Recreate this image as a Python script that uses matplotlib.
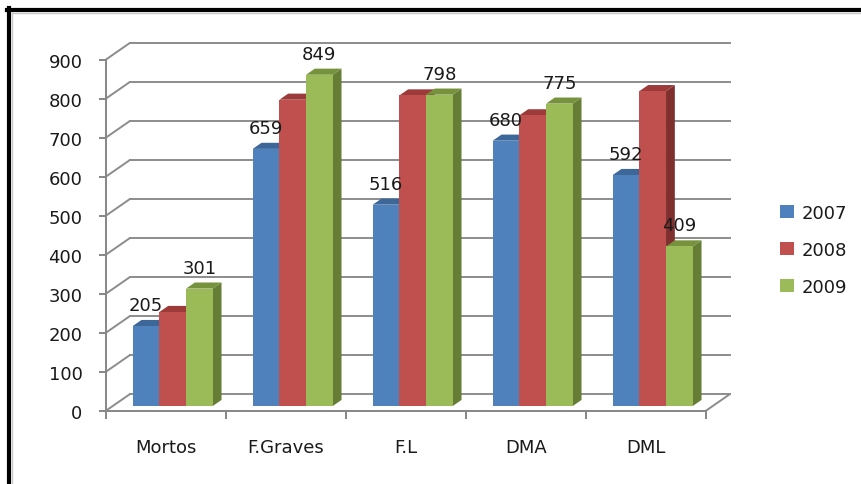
import matplotlib
matplotlib.use("Agg")
import matplotlib.pyplot as plt
from matplotlib.patches import Polygon, Patch
from matplotlib.lines import Line2D

# ---- data ----
categories = ["Mortos", "F.Graves", "F.L", "DMA", "DML"]
series_names = ["2007", "2008", "2009"]
values_2007 = [205, 659, 516, 680, 592]
values_2008 = [241, 785, 796, 745, 807]
values_2009 = [301, 849, 798, 775, 409]
y_ticks = [0, 100, 200, 300, 400, 500, 600, 700, 800, 900]
labeled_series = ["2007", "2009"]

series_values = [values_2007, values_2008, values_2009]
front_colors = ["#4F81BD", "#C0504D", "#9BBB59"]
top_colors = ["#3D6799", "#9C3B39", "#76923C"]
side_colors = ["#375D8C", "#7F302E", "#667D36"]

W, H = 861, 485
fig = plt.figure(figsize=(W / 100, H / 100), dpi=100)
fig.patch.set_facecolor("white")

ax_left, ax_bottom = 106, 73.3
ax_w, ax_h = 600, 351.2
ax = fig.add_axes([ax_left / W, ax_bottom / H, ax_w / W, ax_h / H])
ax.set_xlim(0, len(categories))
ax.set_ylim(0, 900)
ax.patch.set_visible(False)

# depth vector of the floor (pixels) converted to data units
depth_px = (23.5, 16.3)
px_per_x = ax_w / len(categories)
px_per_y = ax_h / 900
ddx = depth_px[0] / px_per_x
ddy = depth_px[1] / px_per_y

grid_color = "#8C8C8C"
axis_color = "#868686"

# back wall gridlines with diagonals from the front axis
for v in y_ticks:
    ax.add_line(Line2D([0, ddx], [v, v + ddy], color=grid_color, lw=1.4,
                       clip_on=False, zorder=1))
    ax.add_line(Line2D([ddx, len(categories) + ddx], [v + ddy, v + ddy],
                       color=grid_color, lw=1.4, clip_on=False, zorder=1))
# right edge of the floor
ax.add_line(Line2D([len(categories), len(categories) + ddx], [0, ddy],
                   color=grid_color, lw=1.4, clip_on=False, zorder=1))

# 3-D style columns
f0, f1 = 0.285, 0.66
bar_w = 0.2222
n_series = len(series_values)
for i in range(len(categories)):
    group_left = i + 0.5 - n_series * bar_w / 2
    for k, vals in enumerate(series_values):
        h = vals[i]
        xl = group_left + k * bar_w
        xr = xl + bar_w
        ox0, oy0 = f0 * ddx, f0 * ddy
        ox1, oy1 = f1 * ddx, f1 * ddy
        front = Polygon([(xl + ox0, oy0), (xr + ox0, oy0), (xr + ox0, h + oy0), (xl + ox0, h + oy0)],
                        closed=True, fc=front_colors[k], ec="none", clip_on=False, zorder=3)
        top = Polygon([(xl + ox0, h + oy0), (xr + ox0, h + oy0), (xr + ox1, h + oy1), (xl + ox1, h + oy1)],
                      closed=True, fc=top_colors[k], ec="none", clip_on=False, zorder=3)
        side = Polygon([(xr + ox0, oy0), (xr + ox1, oy1), (xr + ox1, h + oy1), (xr + ox0, h + oy0)],
                       closed=True, fc=side_colors[k], ec="none", clip_on=False, zorder=3)
        for p in (side, top, front):
            ax.add_patch(p)
        if series_names[k] in labeled_series:
            ax.annotate(str(h), xy=(xl + bar_w / 2 + ox0, h + oy0), xytext=(0, 21),
                        textcoords="offset pixels", ha="center", va="center",
                        fontsize=13, color="#1A1A1A", zorder=5, annotation_clip=False)

# axes: front vertical axis and front floor line
for s in ("top", "right"):
    ax.spines[s].set_visible(False)
for s in ("left", "bottom"):
    ax.spines[s].set_color(axis_color)
    ax.spines[s].set_linewidth(1.4)
    ax.spines[s].set_zorder(2)

ax.set_yticks(y_ticks)
ax.set_yticklabels([str(v) for v in y_ticks])
ax.tick_params(axis="y", direction="out", length=5, width=1.4, color=axis_color,
               labelsize=13, pad=12, labelcolor="#1A1A1A")

ax.set_xticks(range(len(categories) + 1))
ax.set_xticklabels([])
ax.set_xticks([i + 0.5 for i in range(len(categories))], minor=True)
ax.set_xticklabels(categories, minor=True)
ax.tick_params(axis="x", which="major", direction="out", length=6, width=1.4, color=axis_color)
ax.tick_params(axis="x", which="minor", length=0, labelsize=13, pad=20, labelcolor="#1A1A1A")

# legend
handles = [Patch(facecolor=c, edgecolor="none") for c in front_colors]
fig.legend(handles, series_names, loc="center left", bbox_to_anchor=(780 / W, 0.483),
           frameon=False, fontsize=13, handlelength=0.75, handleheight=0.75,
           handletextpad=0.45, labelspacing=1.05, borderpad=0, borderaxespad=0,
           labelcolor="#1A1A1A")

# chart frame
fig.add_artist(Line2D([7 / W, 1], [1 - 11 / H, 1 - 11 / H], color="black", lw=3.0,
                      transform=fig.transFigure))
fig.add_artist(Line2D([9 / W, 9 / W], [0, 1 - 9 / H], color="black", lw=3.0,
                      transform=fig.transFigure))
fig.add_artist(Line2D([12 / W, 1], [1 - 14 / H, 1 - 14 / H], color="#C8C8C8", lw=1.0,
                      transform=fig.transFigure))
fig.add_artist(Line2D([12 / W, 12 / W], [0, 1 - 14 / H], color="#C8C8C8", lw=1.0,
                      transform=fig.transFigure))

fig.savefig("out.png", dpi=100, facecolor="white")
